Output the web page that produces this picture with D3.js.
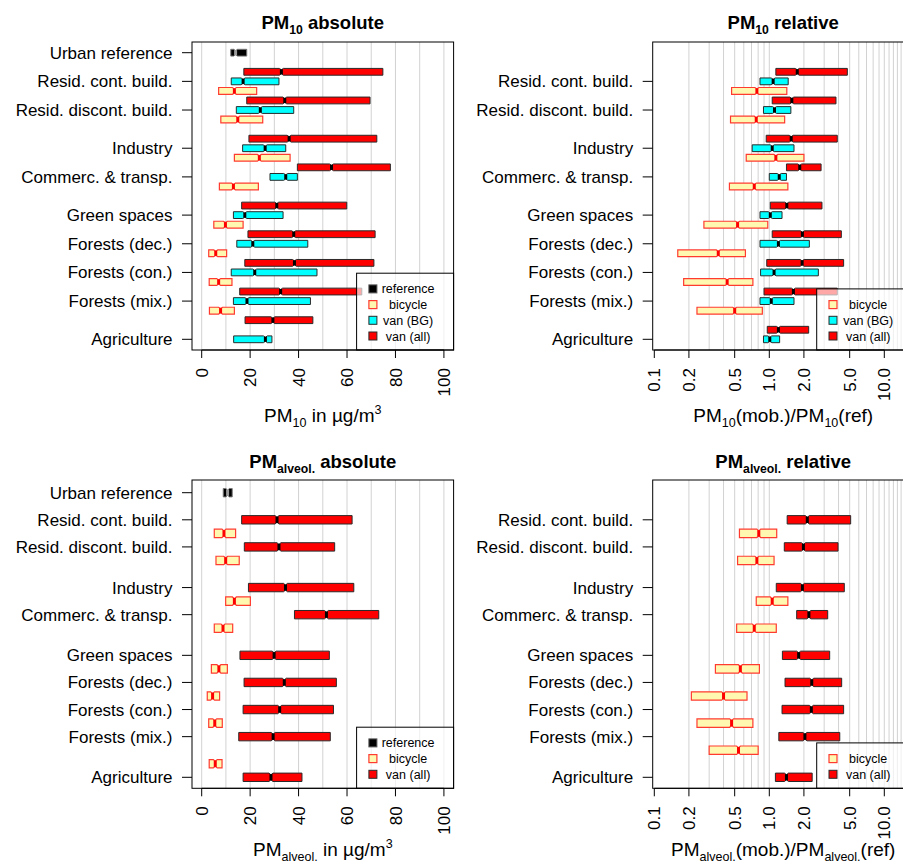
<!DOCTYPE html>
<html>
<head>
<meta charset="utf-8">
<script src="https://cdn.jsdelivr.net/npm/d3@7"></script>
<style>
  body { margin: 0; background: #fff; }
  svg { display: block; }
  text { font-family: "Liberation Sans", Arial, Helvetica, sans-serif; fill: #000; }
</style>
</head>
<body>
<svg id="chart" width="903" height="863"></svg>
<script>
// ---------------------------------------------------------------
// Land-use classes (urban reference is drawn separately)
// ---------------------------------------------------------------
const refLabel = "Urban reference";
const landUse = ["Resid. cont. build.", "Resid. discont. build.", "Industry",
  "Commerc. & transp.", "Green spaces", "Forests (dec.)", "Forests (con.)",
  "Forests (mix.)", "Agriculture"];

// Quartiles [Q1, median, Q3] per land-use class; null = no box
// PM10, absolute concentrations (µg/m³)
const pm10AbsRef = [12.0, 14.0, 18.6];
const pm10AbsVanAll = [[17.4, 32.9, 74.8], [18.6, 34.3, 69.5], [19.5, 36.1, 72.3],
  [39.5, 53.6, 77.9], [16.5, 31.0, 59.9], [19.1, 38.0, 71.6], [17.8, 38.3, 71.1],
  [15.7, 32.6, 66.1], [17.9, 29.4, 45.9]];
const pm10AbsVanBG = [[12.2, 17.1, 31.9], [14.3, 24.2, 38.0], [16.9, 26.2, 34.7],
  [28.2, 34.7, 39.5], [13.1, 17.8, 33.6], [14.5, 21.1, 43.8], [12.2, 21.9, 47.6],
  [13.1, 18.7, 44.9], [13.2, 26.3, 29.0]];
const pm10AbsBicycle = [[7.0, 13.5, 22.7], [7.9, 14.9, 25.2], [13.5, 23.8, 36.5],
  [7.3, 13.1, 23.4], [5.0, 9.8, 17.1], [2.9, 5.8, 10.3], [3.1, 7.0, 12.5],
  [3.2, 7.8, 13.5], null];

// PM10, ratio mobile / reference
const pm10RelVanAll = [[1.14, 1.75, 4.77], [1.06, 1.57, 3.80], [0.94, 1.55, 3.90],
  [1.41, 1.84, 2.82], [1.02, 1.42, 2.87], [1.06, 1.94, 4.23], [0.95, 1.93, 4.43],
  [0.90, 1.62, 3.90], [0.96, 1.20, 2.20]];
const pm10RelVanBG = [[0.83, 1.08, 1.46], [0.89, 1.11, 1.54], [0.71, 1.06, 1.64],
  [1.00, 1.22, 1.41], [0.83, 1.02, 1.29], [0.83, 1.20, 2.23], [0.84, 1.10, 2.67],
  [0.83, 1.04, 1.64], [0.89, 1.01, 1.23]];
const pm10RelBicycle = [[0.47, 0.78, 1.42], [0.46, 0.77, 1.36], [0.63, 1.14, 2.00],
  [0.45, 0.74, 1.45], [0.27, 0.53, 0.97], [0.16, 0.36, 0.62], [0.18, 0.43, 0.72],
  [0.235, 0.50, 0.87], null];

// PM alveolar, absolute concentrations (µg/m³)
const alvAbsRef = [8.9, 10.7, 12.6];
const alvAbsVanAll = [[16.5, 31.1, 62.1], [17.6, 31.9, 54.9], [19.3, 34.6, 62.8],
  [38.3, 51.5, 73.1], [15.8, 29.9, 52.7], [17.5, 34.1, 55.6], [17.1, 32.2, 54.4],
  [15.3, 29.5, 53.1], [17.1, 28.6, 41.4]];
const alvAbsBicycle = [[5.2, 9.2, 14.0], [5.9, 9.9, 15.5], [9.9, 13.5, 20.1],
  [5.2, 8.8, 12.8], [4.0, 7.1, 10.6], [2.3, 4.5, 7.4], [2.9, 5.4, 8.5],
  [3.1, 5.6, 8.4], null];

// PM alveolar, ratio mobile / reference
const alvRelVanAll = [[1.43, 2.14, 5.10], [1.35, 1.98, 3.96], [1.15, 1.94, 4.49],
  [1.73, 2.21, 3.22], [1.30, 1.80, 3.35], [1.37, 2.34, 4.26], [1.29, 2.32, 4.43],
  [1.21, 2.04, 4.10], [1.13, 1.41, 2.36]];
const alvRelBicycle = [[0.55, 0.81, 1.16], [0.53, 0.78, 1.10], [0.77, 1.06, 1.45],
  [0.52, 0.74, 1.15], [0.34, 0.56, 0.82], [0.21, 0.40, 0.64], [0.235, 0.47, 0.72],
  [0.30, 0.54, 0.80], null];

// Axis ticks
const absTicks = [0, 20, 40, 60, 80, 100];
const absGrid = d3.range(0, 101, 10);
const relTicks = [0.1, 0.2, 0.5, 1, 2, 5, 10];
const relGrid = d3.range(2, 10).map(d => d / 10).concat(d3.range(1, 21));

// ---------------------------------------------------------------
// Layout: box slot numbers along the vertical category axis
// ---------------------------------------------------------------
const slotsThree = [4, 7, 11, 14, 18, 21, 24, 27, 31];  // three boxes per class
const slotsTwo = [3, 5, 8, 10, 13, 15, 17, 19, 22];     // two boxes per class

const styles = {
  ref:     { fill: "#000000", stroke: "#777777", med: "#9a9a9a", sw: 1 },
  vanAll:  { fill: "#ff0000", stroke: "#2a2a2a", med: "#000000", sw: 1 },
  vanBG:   { fill: "#00ffff", stroke: "#2a2a2a", med: "#000000", sw: 1 },
  bicycle: { fill: "#fff8b0", stroke: "#ff3b30", med: "#ff0000", sw: 1.2 }
};
const legendNames = { ref: "reference", bicycle: "bicycle", vanBG: "van (BG)", vanAll: "van (all)" };

const panels = [
  {
    left: 192, right: 453.6, top: 42, bottom: 350, log: false,
    slotDomain: [1, 31], slotRange: [52.7, 339.3], boxH: 6.8, slots: slotsThree,
    title: [["PM", ""], ["10", "sub"], [" absolute", ""]], titleY: 29,
    xTitle: [["PM", ""], ["10", "sub"], [" in µg/m", ""], ["3", "sup"]], xTitleY: 421.5,
    ref: pm10AbsRef,
    series: [
      { key: "vanAll", data: pm10AbsVanAll, offset: -1, shift: { 8: -1 } },
      { key: "vanBG", data: pm10AbsVanBG, offset: 0 },
      { key: "bicycle", data: pm10AbsBicycle, offset: 1 }
    ],
    legend: ["ref", "bicycle", "vanBG", "vanAll"]
  },
  {
    left: 652.7, right: 913.7, top: 42, bottom: 350, log: true,
    slotDomain: [1, 31], slotRange: [52.7, 339.3], boxH: 6.8, slots: slotsThree,
    title: [["PM", ""], ["10", "sub"], [" relative", ""]], titleY: 29,
    xTitle: [["PM", ""], ["10", "sub"], ["(mob.)/PM", ""], ["10", "sub"], ["(ref)", ""]], xTitleY: 421.5,
    ref: null,
    series: [
      { key: "vanAll", data: pm10RelVanAll, offset: -1 },
      { key: "vanBG", data: pm10RelVanBG, offset: 0 },
      { key: "bicycle", data: pm10RelBicycle, offset: 1 }
    ],
    legend: ["bicycle", "vanBG", "vanAll"]
  },
  {
    left: 192, right: 453.6, top: 480, bottom: 788.3, log: false,
    slotDomain: [1, 22], slotRange: [492.7, 777.3], boxH: 8.4, slots: slotsTwo,
    title: [["PM", ""], ["alveol.", "sub"], [" absolute", ""]], titleY: 467.5,
    xTitle: [["PM", ""], ["alveol.", "sub"], [" in µg/m", ""], ["3", "sup"]], xTitleY: 856,
    ref: alvAbsRef,
    series: [
      { key: "vanAll", data: alvAbsVanAll, offset: 0 },
      { key: "bicycle", data: alvAbsBicycle, offset: 1, shift: { 7: 1 } }
    ],
    legend: ["ref", "bicycle", "vanAll"]
  },
  {
    left: 652.7, right: 913.7, top: 480, bottom: 788.3, log: true,
    slotDomain: [1, 22], slotRange: [492.7, 777.3], boxH: 8.4, slots: slotsTwo,
    title: [["PM", ""], ["alveol.", "sub"], [" relative", ""]], titleY: 467.5,
    xTitle: [["PM", ""], ["alveol.", "sub"], ["(mob.)/PM", ""], ["alveol.", "sub"], ["(ref)", ""]], xTitleY: 856,
    ref: null,
    series: [
      { key: "vanAll", data: alvRelVanAll, offset: 0 },
      { key: "bicycle", data: alvRelBicycle, offset: 1 }
    ],
    legend: ["bicycle", "vanAll"]
  }
];

const svg = d3.select("#chart");

// Text with sub- / superscript pieces
function richText(sel, parts, fs, smallFrac) {
  let cur = 0;
  parts.forEach(([t, kind]) => {
    const target = kind === "sub" ? 0.28 : kind === "sup" ? -0.42 : 0;
    const ts = sel.append("tspan").text(t);
    const dy = (target - cur) * fs;
    if (dy !== 0) ts.attr("dy", dy);
    if (kind) ts.attr("font-size", fs * smallFrac);
    cur = target;
  });
}

// Notched horizontal box
function drawBox(g, q, cy, h, x, st) {
  const x1 = x(q[0]), xm = x(q[1]), x3 = x(q[2]);
  const n = Math.min(2, (xm - x1) * 0.4, (x3 - xm) * 0.4);
  const pts = [[x1, cy - h], [xm - n, cy - h], [xm, cy - h * 0.6], [xm + n, cy - h], [x3, cy - h],
    [x3, cy + h], [xm + n, cy + h], [xm, cy + h * 0.6], [xm - n, cy + h], [x1, cy + h]];
  g.append("polygon")
    .attr("points", pts.map(p => p.join(",")).join(" "))
    .attr("fill", st.fill).attr("stroke", st.stroke).attr("stroke-width", st.sw)
    .attr("stroke-linejoin", "miter");
  g.append("line")
    .attr("x1", xm).attr("x2", xm)
    .attr("y1", cy - h * 0.75).attr("y2", cy + h * 0.75)
    .attr("stroke", st.med).attr("stroke-width", 3);
}

panels.forEach(p => {
  const g = svg.append("g");
  const x = p.log
    ? d3.scaleLog().domain([Math.pow(10, -1 - 1.6 / 115), Math.pow(10, 1 + 29.4 / 115)]).range([p.left, p.right])
    : d3.scaleLinear().domain([-4, 104]).range([p.left, p.right]);
  const y = d3.scaleLinear().domain(p.slotDomain).range(p.slotRange);

  // grid
  const grid = p.log ? relGrid : absGrid;
  g.append("g").selectAll("line").data(grid).join("line")
    .attr("x1", d => x(d)).attr("x2", d => x(d))
    .attr("y1", p.top).attr("y2", p.bottom)
    .attr("stroke", "#d2d2d2").attr("stroke-width", 1);

  // boxes
  const boxes = g.append("g");
  if (p.ref) drawBox(boxes, p.ref, y(1), p.boxH / 2, x, styles.ref);
  p.series.forEach(s => {
    s.data.forEach((q, i) => {
      if (!q) return;
      const slot = p.slots[i] + s.offset + ((s.shift && s.shift[i]) || 0);
      drawBox(boxes, q, y(slot), p.boxH / 2, x, styles[s.key]);
    });
  });

  // legend
  const rowGap = 15.7;
  const lastRow = p.bottom - 14;
  const firstRow = lastRow - (p.legend.length - 1) * rowGap;
  const lTop = firstRow - 15.7;
  const lLeft = p.right - 97;
  const lg = g.append("g");
  lg.append("rect")
    .attr("x", lLeft).attr("y", lTop)
    .attr("width", p.right - lLeft).attr("height", p.bottom - lTop)
    .attr("fill", "rgba(255,255,255,0.66)").attr("stroke", "#000").attr("stroke-width", 1);
  p.legend.forEach((k, i) => {
    const cy = firstRow + i * rowGap;
    const st = styles[k];
    lg.append("rect")
      .attr("x", lLeft + 16.3 - 4).attr("y", cy - 4).attr("width", 8).attr("height", 8)
      .attr("fill", st.fill).attr("stroke", k === "ref" ? "#555" : st.stroke).attr("stroke-width", st.sw);
    lg.append("text")
      .attr("x", lLeft + 51.5).attr("y", cy + 4.5)
      .attr("text-anchor", "middle").attr("font-size", 12.5)
      .text(legendNames[k]);
  });

  // frame
  g.append("rect")
    .attr("x", p.left).attr("y", p.top)
    .attr("width", p.right - p.left).attr("height", p.bottom - p.top)
    .attr("fill", "none").attr("stroke", "#000").attr("stroke-width", 1);

  // y axis: category ticks and labels
  const yLabels = (p.ref ? [[refLabel, 1]] : []).concat(landUse.map((c, i) => [c, p.slots[i]]));
  const ya = g.append("g");
  yLabels.forEach(([lab, slot]) => {
    const yy = y(slot);
    ya.append("line").attr("x1", p.left - 10).attr("x2", p.left)
      .attr("y1", yy).attr("y2", yy).attr("stroke", "#000");
    ya.append("text").attr("x", p.left - 19.5).attr("y", yy + 6)
      .attr("text-anchor", "end").attr("font-size", 17).text(lab);
  });

  // x axis: ticks and rotated labels
  const ticks = p.log ? relTicks : absTicks;
  const xa = g.append("g");
  xa.append("line").attr("x1", x(ticks[0])).attr("x2", Math.min(x(ticks[ticks.length - 1]), p.right))
    .attr("y1", p.bottom).attr("y2", p.bottom).attr("stroke", "#000");
  ticks.forEach(t => {
    const xx = x(t);
    xa.append("line").attr("x1", xx).attr("x2", xx)
      .attr("y1", p.bottom).attr("y2", p.bottom + 8).attr("stroke", "#000");
    xa.append("text")
      .attr("transform", `translate(${xx},${p.bottom + 18}) rotate(-90)`)
      .attr("text-anchor", "end").attr("dy", "0.36em").attr("font-size", 17)
      .text(p.log ? t.toFixed(1) : String(t));
  });

  // titles
  const cx = (p.left + p.right) / 2;
  const tt = g.append("text").attr("x", cx).attr("y", p.titleY)
    .attr("text-anchor", "middle").attr("font-size", 18.5).attr("font-weight", "bold");
  richText(tt, p.title, 18.5, 0.66);
  const xt = g.append("text").attr("x", cx).attr("y", p.xTitleY)
    .attr("text-anchor", "middle").attr("font-size", 19);
  richText(xt, p.xTitle, 19, 0.66);
});
</script>
</body>
</html>
